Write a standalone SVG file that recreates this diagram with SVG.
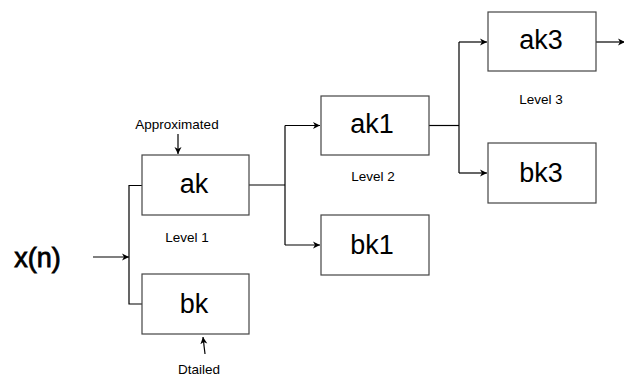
<svg xmlns="http://www.w3.org/2000/svg" width="624" height="378" viewBox="0 0 624 378">
<defs>
<marker id="ah" markerWidth="8" markerHeight="8" refX="7" refY="4" orient="auto" markerUnits="userSpaceOnUse">
<path d="M0,0.5 L7,4 L0,7.5 L2,4 Z" fill="#000"/>
</marker>
<style>
.box{fill:#fff;stroke:#444;stroke-width:1.2}
.lbl{font-family:"Liberation Sans",Arial,sans-serif;font-size:27px;fill:#000;text-anchor:middle}
.sm{font-family:"Liberation Sans",Arial,sans-serif;font-size:13.5px;fill:#000;text-anchor:middle}
.ln{fill:none;stroke:#000;stroke-width:1.2}
.ar{fill:none;stroke:#000;stroke-width:1.2;marker-end:url(#ah)}
</style>
</defs>
<rect width="624" height="378" fill="#fff"/>
<g id="connectors">
<line class="ar" x1="93" y1="257" x2="129" y2="257"/>
<path class="ln" d="M142,185.5 H129 V304 H142"/>
<path class="ln" d="M249,185 H285"/>
<path class="ln" d="M285,125.5 V245"/>
<line class="ar" x1="285" y1="125.5" x2="320" y2="125.5"/>
<line class="ar" x1="285" y1="245" x2="320" y2="245"/>
<path class="ln" d="M429,125.5 H459"/>
<path class="ln" d="M459,42 V173"/>
<line class="ar" x1="459" y1="42" x2="487" y2="42"/>
<line class="ar" x1="459" y1="173" x2="487" y2="173"/>
<line class="ar" x1="596" y1="42" x2="625" y2="42"/>
<line class="ar" x1="178" y1="134" x2="178" y2="154"/>
<line class="ar" x1="205" y1="354" x2="203" y2="337"/>
</g>
<g id="xn"><text class="lbl" x="37.5" y="267" font-size="28" stroke="#000" stroke-width="0.8">x(n)</text></g>
<g id="approx"><text class="sm" x="177" y="129">Approximated</text></g>
<g id="ak"><rect class="box" x="142" y="155" width="107" height="60"/><text class="lbl" x="194" y="193">ak</text></g>
<g id="level1"><text class="sm" x="187" y="242">Level 1</text></g>
<g id="bk"><rect class="box" x="142" y="274" width="107" height="60"/><text class="lbl" x="194" y="313">bk</text></g>
<g id="dtailed"><text class="sm" x="199" y="374">Dtailed</text></g>
<g id="ak1"><rect class="box" x="321" y="96" width="108" height="59"/><text class="lbl" x="372" y="133">ak1</text></g>
<g id="level2"><text class="sm" x="373" y="181">Level 2</text></g>
<g id="bk1"><rect class="box" x="321" y="215" width="108" height="60"/><text class="lbl" x="372" y="254">bk1</text></g>
<g id="ak3"><rect class="box" x="488" y="12" width="108" height="59"/><text class="lbl" x="541" y="49">ak3</text></g>
<g id="level3"><text class="sm" x="541" y="104">Level 3</text></g>
<g id="bk3"><rect class="box" x="488" y="143" width="108" height="60"/><text class="lbl" x="541" y="182">bk3</text></g>
</svg>
